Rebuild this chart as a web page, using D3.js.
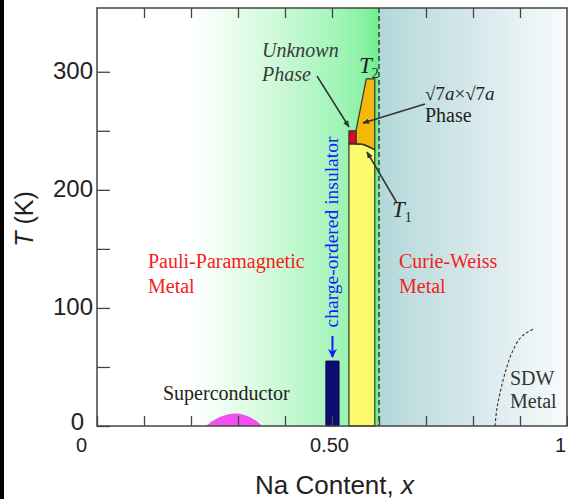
<!DOCTYPE html>
<html><head><meta charset="utf-8">
<script src="https://cdn.jsdelivr.net/npm/d3@7"></script>
<style>body{margin:0;background:#fff;overflow:hidden}</style>
</head><body>
<svg id="c" width="568" height="499"></svg>
<script>
// ---------- data ----------
const xTicks = [0,0.1,0.2,0.3,0.4,0.5,0.6,0.7,0.8,0.9,1];
const xTickLabels = {0:"0",0.5:"0.50",1:"1"};
const yTicks = [0,50,100,150,200,250,300];
const yTickLabels = [0,100,200,300];
const xDomain = [0,1];
const yDomain = [0,354];

// superconducting dome  [x, T]
const scDome = [[0.232,0],[0.245,4],[0.26,7.5],[0.278,9.8],[0.294,10.5],[0.31,9.8],[0.326,7.5],[0.34,4],[0.351,0]];
// charge-ordered insulator bar
const coBar = [[0.487,0],[0.487,55],[0.515,55],[0.515,0]];
// T1 boundary (top of yellow region)
const t1Curve = [[0.551,239],[0.566,238.5],[0.581,236],[0.591,234]];
// yellow region
const yellowRegion = [[0.536,0],[0.536,239],[0.551,239],[0.566,238.5],[0.581,236],[0.591,234],[0.591,0]];
// unknown phase (red)
const unknownPhase = [[0.536,239],[0.536,250],[0.551,250],[0.551,239]];
// sqrt7 x sqrt7 phase (orange)
const sqrt7Phase = [[0.551,239],[0.551,250],[0.573,294],[0.591,294],[0.591,234],[0.581,236],[0.566,238.5],[0.551,239]];
// SDW boundary
const sdwCurve = [[0.847,0],[0.8504,13.6],[0.8574,27.7],[0.868,44.6],[0.8823,61.6],[0.9,74.3],[0.9177,79.9],[0.932,82.8]];
// critical composition
const xCritical = 0.6;
// background region bounds
const greenRegion = [0.2,0.6];
const cwRegion = [0.6,1];

// ---------- drawing ----------
const svg = d3.select("#c");
const x = d3.scaleLinear(xDomain,[97,567]);
const y = d3.scaleLinear(yDomain,[426,8]);
const line = d3.line().x(d=>x(d[0])).y(d=>y(d[1]));
const curve = d3.line().x(d=>x(d[0])).y(d=>y(d[1])).curve(d3.curveCatmullRom);

const defs = svg.append("defs");
const g1 = defs.append("linearGradient").attr("id","gGreen").attr("x1","0").attr("x2","1").attr("y1","0").attr("y2","0");
[[0,"#ffffff"],[0.25,"#e6fdeb"],[0.5,"#c8f9d4"],[0.75,"#a5f5bb"],[0.9,"#8ef2a8"],[1,"#6cee8b"]].forEach(s=>g1.append("stop").attr("offset",s[0]).attr("stop-color",s[1]));
const g2 = defs.append("linearGradient").attr("id","gBlue").attr("x1","0").attr("x2","1").attr("y1","0").attr("y2","0");
[[0,"#b3d8da"],[0.5,"#d6e8eb"],[1,"#f8fbfc"]].forEach(s=>g2.append("stop").attr("offset",s[0]).attr("stop-color",s[1]));
const mk = defs.append("marker").attr("id","arr").attr("viewBox","0 0 10 10").attr("refX",9).attr("refY",5)
  .attr("markerWidth",7).attr("markerHeight",7).attr("markerUnits","userSpaceOnUse").attr("orient","auto");
mk.append("path").attr("d","M0,1 L10,5 L0,9 Z").attr("fill","#333");
const mkb = defs.append("marker").attr("id","arrb").attr("viewBox","0 0 10 10").attr("refX",9).attr("refY",5)
  .attr("markerWidth",9).attr("markerHeight",9).attr("markerUnits","userSpaceOnUse").attr("orient","auto");
mkb.append("path").attr("d","M0,0 L10,5 L0,10 L3,5 Z").attr("fill","#1a1aff");

// left black border
svg.append("rect").attr("x",0).attr("y",0).attr("width",4).attr("height",499).attr("fill","#000");

// backgrounds
svg.append("rect").attr("x",x(greenRegion[0])).attr("y",y(yDomain[1])).attr("width",x(greenRegion[1])-x(greenRegion[0]))
  .attr("height",y(0)-y(yDomain[1])).attr("fill","url(#gGreen)");
svg.append("rect").attr("x",x(cwRegion[0])).attr("y",y(yDomain[1])).attr("width",x(cwRegion[1])-x(cwRegion[0]))
  .attr("height",y(0)-y(yDomain[1])).attr("fill","url(#gBlue)");

// phases
svg.append("path").attr("d",curve(scDome)).attr("fill","#f24ff0");
svg.append("path").attr("d",line(coBar)+"Z").attr("fill","#0c0c72").attr("stroke","#0c0c50").attr("stroke-width",1);
svg.append("path").attr("d",line(yellowRegion)+"Z").attr("fill","#fbfb6c").attr("stroke","#333").attr("stroke-width",1.2);
svg.append("path").attr("d",line(sqrt7Phase)+"Z").attr("fill","#f6b70c").attr("stroke","#333").attr("stroke-width",1.2);
svg.append("path").attr("d",line(unknownPhase)+"Z").attr("fill","#e0061e").attr("stroke","#333").attr("stroke-width",1.2);
svg.append("path").attr("d",curve(t1Curve)).attr("fill","none").attr("stroke","#333").attr("stroke-width",1.2);

// critical dashed line
svg.append("line").attr("x1",x(xCritical)).attr("x2",x(xCritical)).attr("y1",y(yDomain[1])).attr("y2",y(0))
  .attr("stroke","#333").attr("stroke-width",1.4).attr("stroke-dasharray","5,3");
// SDW dashed curve
svg.append("path").attr("d",curve(sdwCurve)).attr("fill","none").attr("stroke","#333").attr("stroke-width",1.1).attr("stroke-dasharray","3,2");

// axes
const fmtY = d=> yTickLabels.includes(d) ? String(d) : "";
const fmtX = d=> xTickLabels[d] !== undefined ? xTickLabels[d] : "";
const ax = (g)=>{g.select(".domain").remove(); g.selectAll("line").attr("stroke","#444").attr("stroke-width",1.3);};
const gl = svg.append("g").attr("transform",`translate(${x(0)},0)`)
  .call(d3.axisLeft(y).tickValues(yTicks).tickSize(-13).tickPadding(4).tickFormat(fmtY)).call(ax);
gl.selectAll("text").attr("font-family","Liberation Sans, Arial, sans-serif").attr("font-size",24).attr("fill","#222").attr("dy","0.28em");
gl.selectAll("text").filter(d=>d===0).attr("dx",-9).attr("dy","0.15em");
const gb = svg.append("g").attr("transform",`translate(0,${y(0)})`)
  .call(d3.axisBottom(x).tickValues(xTicks).tickSize(-10).tickPadding(12).tickFormat(fmtX)).call(ax);
gb.selectAll("text").attr("font-family","Liberation Sans, Arial, sans-serif").attr("font-size",20).attr("fill","#222");
gb.selectAll("text").filter(d=>d===0).attr("dx",-16);
gb.selectAll("text").filter(d=>d===0.5).attr("dx",-3);
gb.selectAll("text").filter(d=>d===1).attr("dx",-7);
const gt = svg.append("g").attr("transform",`translate(0,${y(yDomain[1])})`)
  .call(d3.axisTop(x).tickValues(xTicks.filter(d=>d>0&&d<1&&d!==xCritical)).tickSize(-10).tickFormat(""))
  .call(ax);
// frame
svg.append("rect").attr("x",x(0)).attr("y",y(yDomain[1])).attr("width",x(1)-x(0)).attr("height",y(0)-y(yDomain[1]))
  .attr("fill","none").attr("stroke","#444").attr("stroke-width",1.5);

// axis titles
const yt = svg.append("text").attr("transform","translate(33,219) rotate(-90)").attr("text-anchor","middle")
  .attr("font-family","Liberation Sans, Arial, sans-serif").attr("font-size",25).attr("fill","#222");
yt.append("tspan").attr("font-style","italic").text("T");
yt.append("tspan").text(" (K)");
const xt = svg.append("text").attr("x",255).attr("y",494)
  .attr("font-family","Liberation Sans, Arial, sans-serif").attr("font-size",26).attr("fill","#222");
xt.append("tspan").text("Na Content, ");
xt.append("tspan").attr("font-style","italic").text("x");

// labels
const serif = "Liberation Serif, Times New Roman, serif";
function txt(tx,ty,s,opt={}){
  return svg.append("text").attr("x",tx).attr("y",ty).attr("font-family",serif).attr("font-size",opt.size||20)
    .attr("fill",opt.fill||"#222").attr("font-style",opt.italic?"italic":"normal").text(s);
}
txt(148,268,"Pauli-Paramagnetic",{fill:"#f51c1c"});
txt(148,293,"Metal",{fill:"#f51c1c"});
txt(399,268,"Curie-Weiss",{fill:"#f51c1c"});
txt(399,293,"Metal",{fill:"#f51c1c"});
txt(163,400,"Superconductor",{fill:"#222"});
txt(510,385,"SDW",{fill:"#333"});
txt(510,408,"Metal",{fill:"#333"});
txt(262,57,"Unknown",{italic:true,fill:"#3a3a3a"});
txt(262,81,"Phase",{italic:true,fill:"#3a3a3a"});
// T2
const t2 = svg.append("text").attr("x",359).attr("y",73).attr("font-family",serif).attr("font-size",23).attr("fill","#222");
t2.append("tspan").attr("font-style","italic").text("T");
t2.append("tspan").attr("font-size",14).attr("dy",5).text("2");
// T1
const t1 = svg.append("text").attr("x",392).attr("y",217).attr("font-family",serif).attr("font-size",23).attr("fill","#222");
t1.append("tspan").attr("font-style","italic").text("T");
t1.append("tspan").attr("font-size",14).attr("dy",5).text("1");
// sqrt7 label
const s7 = svg.append("text").attr("x",425).attr("y",100).attr("font-family",serif).attr("font-size",19).attr("fill","#222");
s7.append("tspan").text("√7");
s7.append("tspan").attr("font-style","italic").text("a");
s7.append("tspan").text("×√7");
s7.append("tspan").attr("font-style","italic").text("a");
txt(425,122,"Phase",{fill:"#222"});

// annotation arrows
const arrows = [[[317,76],[349,127]],[[425,104],[363,123]],[[397,203],[367,152]]];
arrows.forEach(a=>svg.append("line").attr("x1",a[0][0]).attr("y1",a[0][1]).attr("x2",a[1][0]).attr("y2",a[1][1])
  .attr("stroke","#333").attr("stroke-width",1.5).attr("marker-end","url(#arr)"));

// charge-ordered insulator label + arrow
const cx = x((coBar[0][0]+coBar[2][0])/2);
svg.append("line").attr("x1",cx).attr("x2",cx).attr("y1",336).attr("y2",357).attr("stroke","#1a1aff").attr("stroke-width",2).attr("marker-end","url(#arrb)");
svg.append("text").attr("transform",`translate(${cx+6},232) rotate(-90)`).attr("text-anchor","middle")
  .attr("font-family",serif).attr("font-size",19.5).attr("fill","#1a1aff").text("charge-ordered insulator");
</script>
</body></html>
